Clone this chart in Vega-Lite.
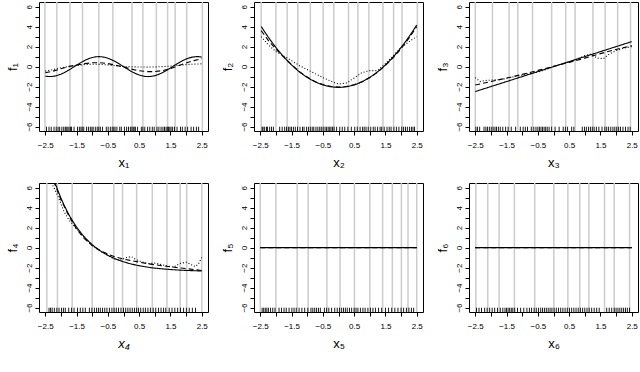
{
"$schema":"https://vega.github.io/schema/vega-lite/v6.json",
"background":"white",
"padding":{"left":5,"top":0,"right":0,"bottom":0},
"columns":3,
"spacing":{"row":11,"column":11},
"datasets":{
"knots":[
{"p":1,"x":-2.51},{"p":1,"x":-2.13},{"p":1,"x":-1.71},{"p":1,"x":-1.31},{"p":1,"x":-0.79},{"p":1,"x":-0.34},{"p":1,"x":0.27},{"p":1,"x":0.62},{"p":1,"x":1.05},{"p":1,"x":1.41},{"p":1,"x":1.65},{"p":1,"x":2.02},{"p":1,"x":2.52},
{"p":2,"x":-2.47},{"p":2,"x":-2.0},{"p":2,"x":-1.64},{"p":2,"x":-1.3},{"p":2,"x":-0.9},{"p":2,"x":-0.49},{"p":2,"x":-0.15},{"p":2,"x":0.32},{"p":2,"x":0.62},{"p":2,"x":0.97},{"p":2,"x":1.42},{"p":2,"x":1.76},{"p":2,"x":2.03},{"p":2,"x":2.52},
{"p":3,"x":-2.5},{"p":3,"x":-1.95},{"p":3,"x":-1.42},{"p":3,"x":-1.14},{"p":3,"x":-0.67},{"p":3,"x":-0.06},{"p":3,"x":0.39},{"p":3,"x":0.69},{"p":3,"x":1.26},{"p":3,"x":1.65},{"p":3,"x":2.05},{"p":3,"x":2.46},
{"p":4,"x":-2.45},{"p":4,"x":-2.11},{"p":4,"x":-1.64},{"p":4,"x":-1.0},{"p":4,"x":-0.31},{"p":4,"x":-0.03},{"p":4,"x":0.42},{"p":4,"x":0.92},{"p":4,"x":1.39},{"p":4,"x":1.81},{"p":4,"x":2.02},{"p":4,"x":2.5},
{"p":5,"x":-2.5},{"p":5,"x":-2.0},{"p":5,"x":-1.32},{"p":5,"x":-0.97},{"p":5,"x":-0.37},{"p":5,"x":0.05},{"p":5,"x":0.51},{"p":5,"x":1.0},{"p":5,"x":1.41},{"p":5,"x":1.72},{"p":5,"x":2.01},{"p":5,"x":2.22},{"p":5,"x":2.5},
{"p":6,"x":-2.48},{"p":6,"x":-2.1},{"p":6,"x":-1.74},{"p":6,"x":-1.25},{"p":6,"x":-0.6},{"p":6,"x":0.01},{"p":6,"x":0.46},{"p":6,"x":0.84},{"p":6,"x":1.13},{"p":6,"x":1.63},{"p":6,"x":1.94},{"p":6,"x":2.43}
],
"rug":[
{"p":1,"x":-2.46},{"p":1,"x":-2.38},{"p":1,"x":-2.31},{"p":1,"x":-2.22},{"p":1,"x":-2.15},{"p":1,"x":-2.09},{"p":1,"x":-2.04},{"p":1,"x":-1.97},{"p":1,"x":-1.91},{"p":1,"x":-1.86},{"p":1,"x":-1.83},{"p":1,"x":-1.78},{"p":1,"x":-1.74},{"p":1,"x":-1.69},{"p":1,"x":-1.66},{"p":1,"x":-1.58},{"p":1,"x":-1.47},{"p":1,"x":-1.41},{"p":1,"x":-1.36},{"p":1,"x":-1.32},{"p":1,"x":-1.27},{"p":1,"x":-1.18},{"p":1,"x":-1.12},{"p":1,"x":-1.06},{"p":1,"x":-1.01},{"p":1,"x":-0.97},{"p":1,"x":-0.9},{"p":1,"x":-0.84},{"p":1,"x":-0.79},{"p":1,"x":-0.74},{"p":1,"x":-0.67},{"p":1,"x":-0.55},{"p":1,"x":-0.49},{"p":1,"x":-0.42},{"p":1,"x":-0.36},{"p":1,"x":-0.31},{"p":1,"x":-0.27},{"p":1,"x":-0.21},{"p":1,"x":-0.12},{"p":1,"x":-0.07},{"p":1,"x":0.03},{"p":1,"x":0.1},{"p":1,"x":0.16},{"p":1,"x":0.22},{"p":1,"x":0.27},{"p":1,"x":0.31},{"p":1,"x":0.34},{"p":1,"x":0.38},{"p":1,"x":0.45},{"p":1,"x":0.57},{"p":1,"x":0.62},{"p":1,"x":0.68},{"p":1,"x":0.77},{"p":1,"x":0.84},{"p":1,"x":0.92},{"p":1,"x":0.98},{"p":1,"x":1.07},{"p":1,"x":1.13},{"p":1,"x":1.2},{"p":1,"x":1.26},{"p":1,"x":1.31},{"p":1,"x":1.36},{"p":1,"x":1.4},{"p":1,"x":1.44},{"p":1,"x":1.48},{"p":1,"x":1.52},{"p":1,"x":1.57},{"p":1,"x":1.63},{"p":1,"x":1.71},{"p":1,"x":1.82},{"p":1,"x":1.88},{"p":1,"x":1.97},{"p":1,"x":2.05},{"p":1,"x":2.16},{"p":1,"x":2.24},{"p":1,"x":2.33},{"p":1,"x":2.4},
{"p":2,"x":-2.44},{"p":2,"x":-2.41},{"p":2,"x":-2.36},{"p":2,"x":-2.3},{"p":2,"x":-2.27},{"p":2,"x":-2.2},{"p":2,"x":-2.14},{"p":2,"x":-2.08},{"p":2,"x":-1.88},{"p":2,"x":-1.8},{"p":2,"x":-1.72},{"p":2,"x":-1.66},{"p":2,"x":-1.6},{"p":2,"x":-1.55},{"p":2,"x":-1.5},{"p":2,"x":-1.44},{"p":2,"x":-1.38},{"p":2,"x":-1.31},{"p":2,"x":-1.23},{"p":2,"x":-1.15},{"p":2,"x":-1.1},{"p":2,"x":-1.02},{"p":2,"x":-0.96},{"p":2,"x":-0.9},{"p":2,"x":-0.84},{"p":2,"x":-0.79},{"p":2,"x":-0.72},{"p":2,"x":-0.66},{"p":2,"x":-0.6},{"p":2,"x":-0.55},{"p":2,"x":-0.49},{"p":2,"x":-0.43},{"p":2,"x":-0.38},{"p":2,"x":-0.33},{"p":2,"x":-0.28},{"p":2,"x":-0.24},{"p":2,"x":-0.19},{"p":2,"x":-0.14},{"p":2,"x":-0.06},{"p":2,"x":0.04},{"p":2,"x":0.12},{"p":2,"x":0.2},{"p":2,"x":0.3},{"p":2,"x":0.41},{"p":2,"x":0.52},{"p":2,"x":0.6},{"p":2,"x":0.69},{"p":2,"x":0.77},{"p":2,"x":0.82},{"p":2,"x":0.88},{"p":2,"x":0.95},{"p":2,"x":1.03},{"p":2,"x":1.11},{"p":2,"x":1.17},{"p":2,"x":1.25},{"p":2,"x":1.33},{"p":2,"x":1.38},{"p":2,"x":1.46},{"p":2,"x":1.55},{"p":2,"x":1.62},{"p":2,"x":1.68},{"p":2,"x":1.77},{"p":2,"x":1.85},{"p":2,"x":1.93},{"p":2,"x":2.02},{"p":2,"x":2.08},{"p":2,"x":2.14},{"p":2,"x":2.2},{"p":2,"x":2.27},{"p":2,"x":2.33},{"p":2,"x":2.38},{"p":2,"x":2.43},
{"p":3,"x":-2.48},{"p":3,"x":-2.43},{"p":3,"x":-2.36},{"p":3,"x":-2.22},{"p":3,"x":-2.16},{"p":3,"x":-2.11},{"p":3,"x":-2.05},{"p":3,"x":-1.99},{"p":3,"x":-1.93},{"p":3,"x":-1.87},{"p":3,"x":-1.82},{"p":3,"x":-1.76},{"p":3,"x":-1.7},{"p":3,"x":-1.62},{"p":3,"x":-1.53},{"p":3,"x":-1.45},{"p":3,"x":-1.35},{"p":3,"x":-1.21},{"p":3,"x":-1.06},{"p":3,"x":-0.97},{"p":3,"x":-0.9},{"p":3,"x":-0.83},{"p":3,"x":-0.71},{"p":3,"x":-0.63},{"p":3,"x":-0.56},{"p":3,"x":-0.5},{"p":3,"x":-0.45},{"p":3,"x":-0.4},{"p":3,"x":-0.35},{"p":3,"x":-0.3},{"p":3,"x":-0.25},{"p":3,"x":-0.2},{"p":3,"x":-0.14},{"p":3,"x":-0.06},{"p":3,"x":0.05},{"p":3,"x":0.18},{"p":3,"x":0.31},{"p":3,"x":0.38},{"p":3,"x":0.45},{"p":3,"x":0.58},{"p":3,"x":0.65},{"p":3,"x":0.92},{"p":3,"x":0.99},{"p":3,"x":1.05},{"p":3,"x":1.12},{"p":3,"x":1.18},{"p":3,"x":1.24},{"p":3,"x":1.3},{"p":3,"x":1.37},{"p":3,"x":1.45},{"p":3,"x":1.55},{"p":3,"x":1.64},{"p":3,"x":1.7},{"p":3,"x":1.76},{"p":3,"x":1.83},{"p":3,"x":1.9},{"p":3,"x":1.96},{"p":3,"x":2.02},{"p":3,"x":2.08},{"p":3,"x":2.14},{"p":3,"x":2.22},{"p":3,"x":2.3},{"p":3,"x":2.38},{"p":3,"x":2.45},
{"p":4,"x":-2.38},{"p":4,"x":-2.33},{"p":4,"x":-2.28},{"p":4,"x":-2.21},{"p":4,"x":-2.13},{"p":4,"x":-2.06},{"p":4,"x":-1.98},{"p":4,"x":-1.92},{"p":4,"x":-1.86},{"p":4,"x":-1.75},{"p":4,"x":-1.66},{"p":4,"x":-1.58},{"p":4,"x":-1.47},{"p":4,"x":-1.38},{"p":4,"x":-1.3},{"p":4,"x":-1.22},{"p":4,"x":-1.09},{"p":4,"x":-1.01},{"p":4,"x":-0.93},{"p":4,"x":-0.86},{"p":4,"x":-0.8},{"p":4,"x":-0.74},{"p":4,"x":-0.67},{"p":4,"x":-0.6},{"p":4,"x":-0.53},{"p":4,"x":-0.45},{"p":4,"x":-0.37},{"p":4,"x":-0.3},{"p":4,"x":-0.23},{"p":4,"x":-0.16},{"p":4,"x":-0.08},{"p":4,"x":0.0},{"p":4,"x":0.07},{"p":4,"x":0.14},{"p":4,"x":0.21},{"p":4,"x":0.28},{"p":4,"x":0.35},{"p":4,"x":0.42},{"p":4,"x":0.48},{"p":4,"x":0.55},{"p":4,"x":0.63},{"p":4,"x":0.7},{"p":4,"x":0.78},{"p":4,"x":0.86},{"p":4,"x":0.95},{"p":4,"x":1.03},{"p":4,"x":1.12},{"p":4,"x":1.2},{"p":4,"x":1.28},{"p":4,"x":1.35},{"p":4,"x":1.46},{"p":4,"x":1.55},{"p":4,"x":1.64},{"p":4,"x":1.73},{"p":4,"x":1.82},{"p":4,"x":1.92},{"p":4,"x":2.01},{"p":4,"x":2.1},{"p":4,"x":2.2},{"p":4,"x":2.3},
{"p":5,"x":-2.44},{"p":5,"x":-2.39},{"p":5,"x":-2.34},{"p":5,"x":-2.29},{"p":5,"x":-2.24},{"p":5,"x":-2.17},{"p":5,"x":-2.1},{"p":5,"x":-2.03},{"p":5,"x":-1.9},{"p":5,"x":-1.82},{"p":5,"x":-1.74},{"p":5,"x":-1.67},{"p":5,"x":-1.58},{"p":5,"x":-1.49},{"p":5,"x":-1.42},{"p":5,"x":-1.35},{"p":5,"x":-1.26},{"p":5,"x":-1.17},{"p":5,"x":-1.08},{"p":5,"x":-0.98},{"p":5,"x":-0.88},{"p":5,"x":-0.82},{"p":5,"x":-0.76},{"p":5,"x":-0.7},{"p":5,"x":-0.64},{"p":5,"x":-0.58},{"p":5,"x":-0.45},{"p":5,"x":-0.38},{"p":5,"x":-0.31},{"p":5,"x":-0.22},{"p":5,"x":-0.12},{"p":5,"x":-0.04},{"p":5,"x":0.03},{"p":5,"x":0.1},{"p":5,"x":0.16},{"p":5,"x":0.22},{"p":5,"x":0.28},{"p":5,"x":0.35},{"p":5,"x":0.42},{"p":5,"x":0.5},{"p":5,"x":0.56},{"p":5,"x":0.62},{"p":5,"x":0.7},{"p":5,"x":0.78},{"p":5,"x":0.85},{"p":5,"x":0.94},{"p":5,"x":1.02},{"p":5,"x":1.1},{"p":5,"x":1.18},{"p":5,"x":1.28},{"p":5,"x":1.38},{"p":5,"x":1.5},{"p":5,"x":1.6},{"p":5,"x":1.7},{"p":5,"x":1.8},{"p":5,"x":1.9},{"p":5,"x":2.0},{"p":5,"x":2.08},{"p":5,"x":2.17},{"p":5,"x":2.25},{"p":5,"x":2.33},{"p":5,"x":2.4},
{"p":6,"x":-2.46},{"p":6,"x":-2.38},{"p":6,"x":-2.3},{"p":6,"x":-2.2},{"p":6,"x":-2.12},{"p":6,"x":-2.04},{"p":6,"x":-1.96},{"p":6,"x":-1.88},{"p":6,"x":-1.79},{"p":6,"x":-1.7},{"p":6,"x":-1.62},{"p":6,"x":-1.55},{"p":6,"x":-1.5},{"p":6,"x":-1.45},{"p":6,"x":-1.4},{"p":6,"x":-1.35},{"p":6,"x":-1.3},{"p":6,"x":-1.24},{"p":6,"x":-1.15},{"p":6,"x":-1.05},{"p":6,"x":-0.95},{"p":6,"x":-0.85},{"p":6,"x":-0.77},{"p":6,"x":-0.7},{"p":6,"x":-0.62},{"p":6,"x":-0.55},{"p":6,"x":-0.48},{"p":6,"x":-0.41},{"p":6,"x":-0.35},{"p":6,"x":-0.29},{"p":6,"x":-0.23},{"p":6,"x":-0.17},{"p":6,"x":-0.11},{"p":6,"x":-0.05},{"p":6,"x":0.02},{"p":6,"x":0.09},{"p":6,"x":0.16},{"p":6,"x":0.23},{"p":6,"x":0.3},{"p":6,"x":0.37},{"p":6,"x":0.44},{"p":6,"x":0.51},{"p":6,"x":0.58},{"p":6,"x":0.65},{"p":6,"x":0.72},{"p":6,"x":0.79},{"p":6,"x":0.86},{"p":6,"x":0.93},{"p":6,"x":1.0},{"p":6,"x":1.07},{"p":6,"x":1.14},{"p":6,"x":1.22},{"p":6,"x":1.3},{"p":6,"x":1.38},{"p":6,"x":1.46},{"p":6,"x":1.7},{"p":6,"x":1.78},{"p":6,"x":1.86},{"p":6,"x":1.94},{"p":6,"x":2.0},{"p":6,"x":2.06},{"p":6,"x":2.12},{"p":6,"x":2.18},{"p":6,"x":2.24},{"p":6,"x":2.3},{"p":6,"x":2.36},{"p":6,"x":2.43}
],
"curves":[
{"p":1,"t":"a","x":-2.5,"y":-0.959},{"p":1,"t":"a","x":-2.4,"y":-0.996},{"p":1,"t":"a","x":-2.3,"y":-0.994},{"p":1,"t":"a","x":-2.2,"y":-0.952},{"p":1,"t":"a","x":-2.1,"y":-0.872},{"p":1,"t":"a","x":-2.0,"y":-0.757},{"p":1,"t":"a","x":-1.9,"y":-0.612},{"p":1,"t":"a","x":-1.8,"y":-0.443},{"p":1,"t":"a","x":-1.7,"y":-0.256},{"p":1,"t":"a","x":-1.6,"y":-0.058},{"p":1,"t":"a","x":-1.5,"y":0.141},{"p":1,"t":"a","x":-1.4,"y":0.335},{"p":1,"t":"a","x":-1.3,"y":0.516},{"p":1,"t":"a","x":-1.2,"y":0.676},{"p":1,"t":"a","x":-1.1,"y":0.809},{"p":1,"t":"a","x":-1.0,"y":0.909},{"p":1,"t":"a","x":-0.9,"y":0.974},{"p":1,"t":"a","x":-0.8,"y":1.0},{"p":1,"t":"a","x":-0.7,"y":0.985},{"p":1,"t":"a","x":-0.6,"y":0.932},{"p":1,"t":"a","x":-0.5,"y":0.841},{"p":1,"t":"a","x":-0.4,"y":0.717},{"p":1,"t":"a","x":-0.3,"y":0.565},{"p":1,"t":"a","x":-0.2,"y":0.389},{"p":1,"t":"a","x":-0.1,"y":0.199},{"p":1,"t":"a","x":0.0,"y":0.0},{"p":1,"t":"a","x":0.1,"y":-0.199},{"p":1,"t":"a","x":0.2,"y":-0.389},{"p":1,"t":"a","x":0.3,"y":-0.565},{"p":1,"t":"a","x":0.4,"y":-0.717},{"p":1,"t":"a","x":0.5,"y":-0.841},{"p":1,"t":"a","x":0.6,"y":-0.932},{"p":1,"t":"a","x":0.7,"y":-0.985},{"p":1,"t":"a","x":0.8,"y":-1.0},{"p":1,"t":"a","x":0.9,"y":-0.974},{"p":1,"t":"a","x":1.0,"y":-0.909},{"p":1,"t":"a","x":1.1,"y":-0.809},{"p":1,"t":"a","x":1.2,"y":-0.676},{"p":1,"t":"a","x":1.3,"y":-0.516},{"p":1,"t":"a","x":1.4,"y":-0.335},{"p":1,"t":"a","x":1.5,"y":-0.141},{"p":1,"t":"a","x":1.6,"y":0.058},{"p":1,"t":"a","x":1.7,"y":0.256},{"p":1,"t":"a","x":1.8,"y":0.443},{"p":1,"t":"a","x":1.9,"y":0.612},{"p":1,"t":"a","x":2.0,"y":0.757},{"p":1,"t":"a","x":2.1,"y":0.872},{"p":1,"t":"a","x":2.2,"y":0.952},{"p":1,"t":"a","x":2.3,"y":0.994},{"p":1,"t":"a","x":2.4,"y":0.996},{"p":1,"t":"a","x":2.5,"y":0.959},
{"p":1,"t":"b","x":-2.5,"y":-0.62},{"p":1,"t":"b","x":-2.25,"y":-0.45},{"p":1,"t":"b","x":-2.0,"y":-0.22},{"p":1,"t":"b","x":-1.75,"y":0.0},{"p":1,"t":"b","x":-1.5,"y":0.16},{"p":1,"t":"b","x":-1.25,"y":0.3},{"p":1,"t":"b","x":-1.0,"y":0.38},{"p":1,"t":"b","x":-0.75,"y":0.38},{"p":1,"t":"b","x":-0.5,"y":0.3},{"p":1,"t":"b","x":-0.25,"y":0.15},{"p":1,"t":"b","x":0.0,"y":-0.05},{"p":1,"t":"b","x":0.25,"y":-0.25},{"p":1,"t":"b","x":0.5,"y":-0.42},{"p":1,"t":"b","x":0.75,"y":-0.5},{"p":1,"t":"b","x":1.0,"y":-0.5},{"p":1,"t":"b","x":1.25,"y":-0.4},{"p":1,"t":"b","x":1.5,"y":-0.2},{"p":1,"t":"b","x":1.75,"y":0.08},{"p":1,"t":"b","x":2.0,"y":0.36},{"p":1,"t":"b","x":2.25,"y":0.6},{"p":1,"t":"b","x":2.5,"y":0.8},
{"p":1,"t":"c","x":-2.5,"y":-0.45},{"p":1,"t":"c","x":-2.25,"y":-0.3},{"p":1,"t":"c","x":-2.0,"y":-0.12},{"p":1,"t":"c","x":-1.75,"y":0.03},{"p":1,"t":"c","x":-1.5,"y":0.13},{"p":1,"t":"c","x":-1.25,"y":0.2},{"p":1,"t":"c","x":-1.0,"y":0.24},{"p":1,"t":"c","x":-0.75,"y":0.22},{"p":1,"t":"c","x":-0.5,"y":0.17},{"p":1,"t":"c","x":-0.25,"y":0.08},{"p":1,"t":"c","x":0.0,"y":0.02},{"p":1,"t":"c","x":0.25,"y":-0.02},{"p":1,"t":"c","x":0.5,"y":-0.04},{"p":1,"t":"c","x":0.75,"y":-0.05},{"p":1,"t":"c","x":1.0,"y":-0.03},{"p":1,"t":"c","x":1.25,"y":0.0},{"p":1,"t":"c","x":1.5,"y":0.05},{"p":1,"t":"c","x":1.75,"y":0.12},{"p":1,"t":"c","x":2.0,"y":0.2},{"p":1,"t":"c","x":2.25,"y":0.25},{"p":1,"t":"c","x":2.5,"y":0.28},
{"p":2,"t":"a","x":-2.47,"y":4.018},{"p":2,"t":"a","x":-2.4,"y":3.677},{"p":2,"t":"a","x":-2.3,"y":3.207},{"p":2,"t":"a","x":-2.2,"y":2.757},{"p":2,"t":"a","x":-2.1,"y":2.327},{"p":2,"t":"a","x":-2.0,"y":1.917},{"p":2,"t":"a","x":-1.9,"y":1.527},{"p":2,"t":"a","x":-1.8,"y":1.157},{"p":2,"t":"a","x":-1.7,"y":0.807},{"p":2,"t":"a","x":-1.6,"y":0.477},{"p":2,"t":"a","x":-1.5,"y":0.167},{"p":2,"t":"a","x":-1.4,"y":-0.123},{"p":2,"t":"a","x":-1.3,"y":-0.393},{"p":2,"t":"a","x":-1.2,"y":-0.643},{"p":2,"t":"a","x":-1.1,"y":-0.873},{"p":2,"t":"a","x":-1.0,"y":-1.083},{"p":2,"t":"a","x":-0.9,"y":-1.273},{"p":2,"t":"a","x":-0.8,"y":-1.443},{"p":2,"t":"a","x":-0.7,"y":-1.593},{"p":2,"t":"a","x":-0.6,"y":-1.723},{"p":2,"t":"a","x":-0.5,"y":-1.833},{"p":2,"t":"a","x":-0.4,"y":-1.923},{"p":2,"t":"a","x":-0.3,"y":-1.993},{"p":2,"t":"a","x":-0.2,"y":-2.043},{"p":2,"t":"a","x":-0.1,"y":-2.073},{"p":2,"t":"a","x":0.0,"y":-2.083},{"p":2,"t":"a","x":0.1,"y":-2.073},{"p":2,"t":"a","x":0.2,"y":-2.043},{"p":2,"t":"a","x":0.3,"y":-1.993},{"p":2,"t":"a","x":0.4,"y":-1.923},{"p":2,"t":"a","x":0.5,"y":-1.833},{"p":2,"t":"a","x":0.6,"y":-1.723},{"p":2,"t":"a","x":0.7,"y":-1.593},{"p":2,"t":"a","x":0.8,"y":-1.443},{"p":2,"t":"a","x":0.9,"y":-1.273},{"p":2,"t":"a","x":1.0,"y":-1.083},{"p":2,"t":"a","x":1.1,"y":-0.873},{"p":2,"t":"a","x":1.2,"y":-0.643},{"p":2,"t":"a","x":1.3,"y":-0.393},{"p":2,"t":"a","x":1.4,"y":-0.123},{"p":2,"t":"a","x":1.5,"y":0.167},{"p":2,"t":"a","x":1.6,"y":0.477},{"p":2,"t":"a","x":1.7,"y":0.807},{"p":2,"t":"a","x":1.8,"y":1.157},{"p":2,"t":"a","x":1.9,"y":1.527},{"p":2,"t":"a","x":2.0,"y":1.917},{"p":2,"t":"a","x":2.1,"y":2.327},{"p":2,"t":"a","x":2.2,"y":2.757},{"p":2,"t":"a","x":2.3,"y":3.207},{"p":2,"t":"a","x":2.4,"y":3.677},{"p":2,"t":"a","x":2.5,"y":4.167},
{"p":2,"t":"b","x":-2.47,"y":3.6},{"p":2,"t":"b","x":-2.25,"y":2.65},{"p":2,"t":"b","x":-2.0,"y":1.75},{"p":2,"t":"b","x":-1.75,"y":0.95},{"p":2,"t":"b","x":-1.5,"y":0.2},{"p":2,"t":"b","x":-1.25,"y":-0.5},{"p":2,"t":"b","x":-1.0,"y":-1.05},{"p":2,"t":"b","x":-0.75,"y":-1.5},{"p":2,"t":"b","x":-0.5,"y":-1.8},{"p":2,"t":"b","x":-0.25,"y":-1.98},{"p":2,"t":"b","x":0.0,"y":-2.05},{"p":2,"t":"b","x":0.25,"y":-2.0},{"p":2,"t":"b","x":0.5,"y":-1.82},{"p":2,"t":"b","x":0.75,"y":-1.52},{"p":2,"t":"b","x":1.0,"y":-1.1},{"p":2,"t":"b","x":1.25,"y":-0.55},{"p":2,"t":"b","x":1.5,"y":0.12},{"p":2,"t":"b","x":1.75,"y":0.9},{"p":2,"t":"b","x":2.0,"y":1.8},{"p":2,"t":"b","x":2.25,"y":2.85},{"p":2,"t":"b","x":2.5,"y":4.0},
{"p":2,"t":"c","x":-2.47,"y":3.0},{"p":2,"t":"c","x":-2.25,"y":2.2},{"p":2,"t":"c","x":-2.0,"y":1.5},{"p":2,"t":"c","x":-1.75,"y":1.05},{"p":2,"t":"c","x":-1.5,"y":0.6},{"p":2,"t":"c","x":-1.25,"y":0.1},{"p":2,"t":"c","x":-1.0,"y":-0.3},{"p":2,"t":"c","x":-0.75,"y":-0.7},{"p":2,"t":"c","x":-0.5,"y":-1.1},{"p":2,"t":"c","x":-0.25,"y":-1.45},{"p":2,"t":"c","x":0.0,"y":-1.75},{"p":2,"t":"c","x":0.25,"y":-1.65},{"p":2,"t":"c","x":0.5,"y":-1.15},{"p":2,"t":"c","x":0.75,"y":-0.6},{"p":2,"t":"c","x":1.0,"y":-0.4},{"p":2,"t":"c","x":1.25,"y":-0.4},{"p":2,"t":"c","x":1.5,"y":0.3},{"p":2,"t":"c","x":1.75,"y":1.1},{"p":2,"t":"c","x":2.0,"y":1.9},{"p":2,"t":"c","x":2.25,"y":2.5},{"p":2,"t":"c","x":2.5,"y":3.0},
{"p":3,"t":"a","x":-2.5,"y":-2.5},{"p":3,"t":"a","x":2.5,"y":2.5},
{"p":3,"t":"b","x":-2.5,"y":-1.85},{"p":3,"t":"b","x":-2.0,"y":-1.5},{"p":3,"t":"b","x":-1.5,"y":-1.15},{"p":3,"t":"b","x":-1.0,"y":-0.78},{"p":3,"t":"b","x":-0.5,"y":-0.38},{"p":3,"t":"b","x":0.0,"y":0.02},{"p":3,"t":"b","x":0.5,"y":0.42},{"p":3,"t":"b","x":1.0,"y":0.85},{"p":3,"t":"b","x":1.5,"y":1.3},{"p":3,"t":"b","x":2.0,"y":1.72},{"p":3,"t":"b","x":2.5,"y":2.1},
{"p":3,"t":"c","x":-2.5,"y":-1.1},{"p":3,"t":"c","x":-2.35,"y":-1.5},{"p":3,"t":"c","x":-2.2,"y":-1.4},{"p":3,"t":"c","x":-2.0,"y":-1.35},{"p":3,"t":"c","x":-1.75,"y":-1.3},{"p":3,"t":"c","x":-1.5,"y":-1.2},{"p":3,"t":"c","x":-1.25,"y":-1.0},{"p":3,"t":"c","x":-1.0,"y":-0.85},{"p":3,"t":"c","x":-0.75,"y":-0.7},{"p":3,"t":"c","x":-0.5,"y":-0.55},{"p":3,"t":"c","x":-0.25,"y":-0.3},{"p":3,"t":"c","x":0.0,"y":0.0},{"p":3,"t":"c","x":0.25,"y":0.25},{"p":3,"t":"c","x":0.5,"y":0.45},{"p":3,"t":"c","x":0.75,"y":0.75},{"p":3,"t":"c","x":1.0,"y":1.1},{"p":3,"t":"c","x":1.2,"y":1.25},{"p":3,"t":"c","x":1.4,"y":0.85},{"p":3,"t":"c","x":1.6,"y":0.8},{"p":3,"t":"c","x":1.75,"y":1.2},{"p":3,"t":"c","x":2.0,"y":1.6},{"p":3,"t":"c","x":2.25,"y":1.85},{"p":3,"t":"c","x":2.5,"y":2.0},
{"p":4,"t":"a","x":-2.3,"y":7.554},{"p":4,"t":"a","x":-2.2,"y":6.605},{"p":4,"t":"a","x":-2.1,"y":5.746},{"p":4,"t":"a","x":-2.0,"y":4.969},{"p":4,"t":"a","x":-1.9,"y":4.266},{"p":4,"t":"a","x":-1.8,"y":3.63},{"p":4,"t":"a","x":-1.7,"y":3.054},{"p":4,"t":"a","x":-1.6,"y":2.533},{"p":4,"t":"a","x":-1.5,"y":2.062},{"p":4,"t":"a","x":-1.4,"y":1.635},{"p":4,"t":"a","x":-1.3,"y":1.249},{"p":4,"t":"a","x":-1.2,"y":0.9},{"p":4,"t":"a","x":-1.1,"y":0.584},{"p":4,"t":"a","x":-1.0,"y":0.298},{"p":4,"t":"a","x":-0.9,"y":0.04},{"p":4,"t":"a","x":-0.8,"y":-0.194},{"p":4,"t":"a","x":-0.7,"y":-0.406},{"p":4,"t":"a","x":-0.6,"y":-0.598},{"p":4,"t":"a","x":-0.5,"y":-0.771},{"p":4,"t":"a","x":-0.4,"y":-0.928},{"p":4,"t":"a","x":-0.3,"y":-1.07},{"p":4,"t":"a","x":-0.2,"y":-1.199},{"p":4,"t":"a","x":-0.1,"y":-1.315},{"p":4,"t":"a","x":0.0,"y":-1.42},{"p":4,"t":"a","x":0.1,"y":-1.515},{"p":4,"t":"a","x":0.2,"y":-1.601},{"p":4,"t":"a","x":0.3,"y":-1.679},{"p":4,"t":"a","x":0.4,"y":-1.75},{"p":4,"t":"a","x":0.5,"y":-1.813},{"p":4,"t":"a","x":0.6,"y":-1.871},{"p":4,"t":"a","x":0.7,"y":-1.923},{"p":4,"t":"a","x":0.8,"y":-1.971},{"p":4,"t":"a","x":0.9,"y":-2.013},{"p":4,"t":"a","x":1.0,"y":-2.052},{"p":4,"t":"a","x":1.1,"y":-2.087},{"p":4,"t":"a","x":1.2,"y":-2.119},{"p":4,"t":"a","x":1.3,"y":-2.147},{"p":4,"t":"a","x":1.4,"y":-2.173},{"p":4,"t":"a","x":1.5,"y":-2.197},{"p":4,"t":"a","x":1.6,"y":-2.218},{"p":4,"t":"a","x":1.7,"y":-2.237},{"p":4,"t":"a","x":1.8,"y":-2.255},{"p":4,"t":"a","x":1.9,"y":-2.27},{"p":4,"t":"a","x":2.0,"y":-2.285},{"p":4,"t":"a","x":2.1,"y":-2.298},{"p":4,"t":"a","x":2.2,"y":-2.309},{"p":4,"t":"a","x":2.3,"y":-2.32},{"p":4,"t":"a","x":2.4,"y":-2.329},{"p":4,"t":"a","x":2.5,"y":-2.338},
{"p":4,"t":"b","x":-2.3,"y":7.4},{"p":4,"t":"b","x":-2.2,"y":6.4},{"p":4,"t":"b","x":-2.0,"y":4.8},{"p":4,"t":"b","x":-1.75,"y":3.2},{"p":4,"t":"b","x":-1.5,"y":1.85},{"p":4,"t":"b","x":-1.25,"y":0.9},{"p":4,"t":"b","x":-1.0,"y":0.2},{"p":4,"t":"b","x":-0.75,"y":-0.3},{"p":4,"t":"b","x":-0.5,"y":-0.65},{"p":4,"t":"b","x":-0.25,"y":-0.95},{"p":4,"t":"b","x":0.0,"y":-1.15},{"p":4,"t":"b","x":0.25,"y":-1.3},{"p":4,"t":"b","x":0.5,"y":-1.45},{"p":4,"t":"b","x":0.75,"y":-1.6},{"p":4,"t":"b","x":1.0,"y":-1.72},{"p":4,"t":"b","x":1.25,"y":-1.82},{"p":4,"t":"b","x":1.5,"y":-1.92},{"p":4,"t":"b","x":1.75,"y":-2.02},{"p":4,"t":"b","x":2.0,"y":-2.1},{"p":4,"t":"b","x":2.25,"y":-2.2},{"p":4,"t":"b","x":2.5,"y":-2.3},
{"p":4,"t":"c","x":-2.3,"y":6.5},{"p":4,"t":"c","x":-2.1,"y":5.2},{"p":4,"t":"c","x":-1.9,"y":3.6},{"p":4,"t":"c","x":-1.75,"y":2.8},{"p":4,"t":"c","x":-1.5,"y":1.9},{"p":4,"t":"c","x":-1.25,"y":1.0},{"p":4,"t":"c","x":-1.0,"y":0.2},{"p":4,"t":"c","x":-0.75,"y":-0.35},{"p":4,"t":"c","x":-0.5,"y":-0.8},{"p":4,"t":"c","x":-0.3,"y":-1.15},{"p":4,"t":"c","x":-0.1,"y":-1.25},{"p":4,"t":"c","x":0.1,"y":-1.0},{"p":4,"t":"c","x":0.25,"y":-0.9},{"p":4,"t":"c","x":0.4,"y":-1.2},{"p":4,"t":"c","x":0.6,"y":-1.45},{"p":4,"t":"c","x":0.8,"y":-1.6},{"p":4,"t":"c","x":1.0,"y":-1.55},{"p":4,"t":"c","x":1.2,"y":-1.7},{"p":4,"t":"c","x":1.4,"y":-1.85},{"p":4,"t":"c","x":1.6,"y":-1.95},{"p":4,"t":"c","x":1.8,"y":-1.6},{"p":4,"t":"c","x":2.0,"y":-1.45},{"p":4,"t":"c","x":2.15,"y":-1.7},{"p":4,"t":"c","x":2.3,"y":-1.9},{"p":4,"t":"c","x":2.4,"y":-1.6},{"p":4,"t":"c","x":2.5,"y":-1.0},
{"p":5,"t":"a","x":-2.5,"y":0},{"p":5,"t":"a","x":2.5,"y":0},{"p":5,"t":"b","x":-2.5,"y":0},{"p":5,"t":"b","x":2.5,"y":0},
{"p":6,"t":"a","x":-2.5,"y":0},{"p":6,"t":"a","x":2.5,"y":0},{"p":6,"t":"b","x":-2.5,"y":0},{"p":6,"t":"b","x":2.5,"y":0}
]
},
"concat":[
{"width":169,"height":129,"layer":[
{"data":{"name":"knots"},"transform":[{"filter":"datum.p==1"}],"mark":{"type":"rule","color":"#cccccc","strokeWidth":1.5},"encoding":{"x":{"field":"x","type":"quantitative","scale":{"domain":[-2.7,2.7],"nice":false,"zero":false},"axis":{"title":"x₁","labelOverlap":false,"values":[-2.5,-2,-1.5,-1,-0.5,0,0.5,1,1.5,2,2.5],"format":".1f","labelExpr":"abs(round(datum.value*2)) % 2 == 1 ? datum.label : ''"}}}},
{"data":{"name":"rug"},"transform":[{"filter":"datum.p==1"}],"mark":{"type":"rule","color":"black","strokeWidth":0.9},"encoding":{"x":{"field":"x","type":"quantitative","axis":{"title":"x₁","labelOverlap":false,"values":[-2.5,-2,-1.5,-1,-0.5,0,0.5,1,1.5,2,2.5],"format":".1f","labelExpr":"abs(round(datum.value*2)) % 2 == 1 ? datum.label : ''"}},"y":{"datum":-6.45,"type":"quantitative","scale":{"domain":[-6.45,6.47],"nice":false,"zero":false},"axis":{"title":"f₁","labelOverlap":false,"values":[-6,-5,-4,-3,-2,-1,0,1,2,3,4,5,6],"labelExpr":"datum.value % 2 == 0 ? datum.label : ''"}},"y2":{"datum":-6.02}}},
{"data":{"name":"curves"},"transform":[{"filter":"datum.p==1"}],"mark":{"type":"line","clip":true,"color":"black","strokeWidth":1.1},"encoding":{"x":{"field":"x","type":"quantitative","axis":{"title":"x₁","labelOverlap":false,"values":[-2.5,-2,-1.5,-1,-0.5,0,0.5,1,1.5,2,2.5],"format":".1f","labelExpr":"abs(round(datum.value*2)) % 2 == 1 ? datum.label : ''"}},"y":{"field":"y","type":"quantitative","axis":{"title":"f₁","labelOverlap":false,"values":[-6,-5,-4,-3,-2,-1,0,1,2,3,4,5,6],"labelExpr":"datum.value % 2 == 0 ? datum.label : ''"}},"strokeDash":{"field":"t","type":"nominal","scale":{"domain":["a","b","c"],"range":[[1,0],[5,3],[1,2]]},"legend":null}}}
]},
{"width":169,"height":129,"layer":[
{"data":{"name":"knots"},"transform":[{"filter":"datum.p==2"}],"mark":{"type":"rule","color":"#cccccc","strokeWidth":1.5},"encoding":{"x":{"field":"x","type":"quantitative","scale":{"domain":[-2.7,2.7],"nice":false,"zero":false},"axis":{"title":"x₂","labelOverlap":false,"values":[-2.5,-2,-1.5,-1,-0.5,0,0.5,1,1.5,2,2.5],"format":".1f","labelExpr":"abs(round(datum.value*2)) % 2 == 1 ? datum.label : ''"}}}},
{"data":{"name":"rug"},"transform":[{"filter":"datum.p==2"}],"mark":{"type":"rule","color":"black","strokeWidth":0.9},"encoding":{"x":{"field":"x","type":"quantitative","axis":{"title":"x₂","labelOverlap":false,"values":[-2.5,-2,-1.5,-1,-0.5,0,0.5,1,1.5,2,2.5],"format":".1f","labelExpr":"abs(round(datum.value*2)) % 2 == 1 ? datum.label : ''"}},"y":{"datum":-6.45,"type":"quantitative","scale":{"domain":[-6.45,6.47],"nice":false,"zero":false},"axis":{"title":"f₂","labelOverlap":false,"values":[-6,-5,-4,-3,-2,-1,0,1,2,3,4,5,6],"labelExpr":"datum.value % 2 == 0 ? datum.label : ''"}},"y2":{"datum":-6.02}}},
{"data":{"name":"curves"},"transform":[{"filter":"datum.p==2"}],"mark":{"type":"line","clip":true,"color":"black","strokeWidth":1.1},"encoding":{"x":{"field":"x","type":"quantitative","axis":{"title":"x₂","labelOverlap":false,"values":[-2.5,-2,-1.5,-1,-0.5,0,0.5,1,1.5,2,2.5],"format":".1f","labelExpr":"abs(round(datum.value*2)) % 2 == 1 ? datum.label : ''"}},"y":{"field":"y","type":"quantitative","axis":{"title":"f₂","labelOverlap":false,"values":[-6,-5,-4,-3,-2,-1,0,1,2,3,4,5,6],"labelExpr":"datum.value % 2 == 0 ? datum.label : ''"}},"strokeDash":{"field":"t","type":"nominal","scale":{"domain":["a","b","c"],"range":[[1,0],[5,3],[1,2]]},"legend":null}}}
]},
{"width":169,"height":129,"layer":[
{"data":{"name":"knots"},"transform":[{"filter":"datum.p==3"}],"mark":{"type":"rule","color":"#cccccc","strokeWidth":1.5},"encoding":{"x":{"field":"x","type":"quantitative","scale":{"domain":[-2.7,2.7],"nice":false,"zero":false},"axis":{"title":"x₃","labelOverlap":false,"values":[-2.5,-2,-1.5,-1,-0.5,0,0.5,1,1.5,2,2.5],"format":".1f","labelExpr":"abs(round(datum.value*2)) % 2 == 1 ? datum.label : ''"}}}},
{"data":{"name":"rug"},"transform":[{"filter":"datum.p==3"}],"mark":{"type":"rule","color":"black","strokeWidth":0.9},"encoding":{"x":{"field":"x","type":"quantitative","axis":{"title":"x₃","labelOverlap":false,"values":[-2.5,-2,-1.5,-1,-0.5,0,0.5,1,1.5,2,2.5],"format":".1f","labelExpr":"abs(round(datum.value*2)) % 2 == 1 ? datum.label : ''"}},"y":{"datum":-6.45,"type":"quantitative","scale":{"domain":[-6.45,6.47],"nice":false,"zero":false},"axis":{"title":"f₃","labelOverlap":false,"values":[-6,-5,-4,-3,-2,-1,0,1,2,3,4,5,6],"labelExpr":"datum.value % 2 == 0 ? datum.label : ''"}},"y2":{"datum":-6.02}}},
{"data":{"name":"curves"},"transform":[{"filter":"datum.p==3"}],"mark":{"type":"line","clip":true,"color":"black","strokeWidth":1.1},"encoding":{"x":{"field":"x","type":"quantitative","axis":{"title":"x₃","labelOverlap":false,"values":[-2.5,-2,-1.5,-1,-0.5,0,0.5,1,1.5,2,2.5],"format":".1f","labelExpr":"abs(round(datum.value*2)) % 2 == 1 ? datum.label : ''"}},"y":{"field":"y","type":"quantitative","axis":{"title":"f₃","labelOverlap":false,"values":[-6,-5,-4,-3,-2,-1,0,1,2,3,4,5,6],"labelExpr":"datum.value % 2 == 0 ? datum.label : ''"}},"strokeDash":{"field":"t","type":"nominal","scale":{"domain":["a","b","c"],"range":[[1,0],[5,3],[1,2]]},"legend":null}}}
]},
{"width":169,"height":129,"layer":[
{"data":{"name":"knots"},"transform":[{"filter":"datum.p==4"}],"mark":{"type":"rule","color":"#cccccc","strokeWidth":1.5},"encoding":{"x":{"field":"x","type":"quantitative","scale":{"domain":[-2.7,2.7],"nice":false,"zero":false},"axis":{"title":"x₄","titleFontStyle":"italic","labelOverlap":false,"values":[-2.5,-2,-1.5,-1,-0.5,0,0.5,1,1.5,2,2.5],"format":".1f","labelExpr":"abs(round(datum.value*2)) % 2 == 1 ? datum.label : ''"}}}},
{"data":{"name":"rug"},"transform":[{"filter":"datum.p==4"}],"mark":{"type":"rule","color":"black","strokeWidth":0.9},"encoding":{"x":{"field":"x","type":"quantitative","axis":{"title":"x₄","titleFontStyle":"italic","labelOverlap":false,"values":[-2.5,-2,-1.5,-1,-0.5,0,0.5,1,1.5,2,2.5],"format":".1f","labelExpr":"abs(round(datum.value*2)) % 2 == 1 ? datum.label : ''"}},"y":{"datum":-6.45,"type":"quantitative","scale":{"domain":[-6.45,6.47],"nice":false,"zero":false},"axis":{"title":"f₄","labelOverlap":false,"values":[-6,-5,-4,-3,-2,-1,0,1,2,3,4,5,6],"labelExpr":"datum.value % 2 == 0 ? datum.label : ''"}},"y2":{"datum":-6.02}}},
{"data":{"name":"curves"},"transform":[{"filter":"datum.p==4"}],"mark":{"type":"line","clip":true,"color":"black","strokeWidth":1.1},"encoding":{"x":{"field":"x","type":"quantitative","axis":{"title":"x₄","titleFontStyle":"italic","labelOverlap":false,"values":[-2.5,-2,-1.5,-1,-0.5,0,0.5,1,1.5,2,2.5],"format":".1f","labelExpr":"abs(round(datum.value*2)) % 2 == 1 ? datum.label : ''"}},"y":{"field":"y","type":"quantitative","axis":{"title":"f₄","labelOverlap":false,"values":[-6,-5,-4,-3,-2,-1,0,1,2,3,4,5,6],"labelExpr":"datum.value % 2 == 0 ? datum.label : ''"}},"strokeDash":{"field":"t","type":"nominal","scale":{"domain":["a","b","c"],"range":[[1,0],[5,3],[1,2]]},"legend":null}}}
]},
{"width":169,"height":129,"layer":[
{"data":{"name":"knots"},"transform":[{"filter":"datum.p==5"}],"mark":{"type":"rule","color":"#cccccc","strokeWidth":1.5},"encoding":{"x":{"field":"x","type":"quantitative","scale":{"domain":[-2.7,2.7],"nice":false,"zero":false},"axis":{"title":"x₅","labelOverlap":false,"values":[-2.5,-2,-1.5,-1,-0.5,0,0.5,1,1.5,2,2.5],"format":".1f","labelExpr":"abs(round(datum.value*2)) % 2 == 1 ? datum.label : ''"}}}},
{"data":{"name":"rug"},"transform":[{"filter":"datum.p==5"}],"mark":{"type":"rule","color":"black","strokeWidth":0.9},"encoding":{"x":{"field":"x","type":"quantitative","axis":{"title":"x₅","labelOverlap":false,"values":[-2.5,-2,-1.5,-1,-0.5,0,0.5,1,1.5,2,2.5],"format":".1f","labelExpr":"abs(round(datum.value*2)) % 2 == 1 ? datum.label : ''"}},"y":{"datum":-6.45,"type":"quantitative","scale":{"domain":[-6.45,6.47],"nice":false,"zero":false},"axis":{"title":"f₅","labelOverlap":false,"values":[-6,-5,-4,-3,-2,-1,0,1,2,3,4,5,6],"labelExpr":"datum.value % 2 == 0 ? datum.label : ''"}},"y2":{"datum":-6.02}}},
{"data":{"name":"curves"},"transform":[{"filter":"datum.p==5"}],"mark":{"type":"line","clip":true,"color":"black","strokeWidth":1.1},"encoding":{"x":{"field":"x","type":"quantitative","axis":{"title":"x₅","labelOverlap":false,"values":[-2.5,-2,-1.5,-1,-0.5,0,0.5,1,1.5,2,2.5],"format":".1f","labelExpr":"abs(round(datum.value*2)) % 2 == 1 ? datum.label : ''"}},"y":{"field":"y","type":"quantitative","axis":{"title":"f₅","labelOverlap":false,"values":[-6,-5,-4,-3,-2,-1,0,1,2,3,4,5,6],"labelExpr":"datum.value % 2 == 0 ? datum.label : ''"}},"strokeDash":{"field":"t","type":"nominal","scale":{"domain":["a","b","c"],"range":[[1,0],[5,3],[1,2]]},"legend":null}}}
]},
{"width":169,"height":129,"layer":[
{"data":{"name":"knots"},"transform":[{"filter":"datum.p==6"}],"mark":{"type":"rule","color":"#cccccc","strokeWidth":1.5},"encoding":{"x":{"field":"x","type":"quantitative","scale":{"domain":[-2.7,2.7],"nice":false,"zero":false},"axis":{"title":"x₆","labelOverlap":false,"values":[-2.5,-2,-1.5,-1,-0.5,0,0.5,1,1.5,2,2.5],"format":".1f","labelExpr":"abs(round(datum.value*2)) % 2 == 1 ? datum.label : ''"}}}},
{"data":{"name":"rug"},"transform":[{"filter":"datum.p==6"}],"mark":{"type":"rule","color":"black","strokeWidth":0.9},"encoding":{"x":{"field":"x","type":"quantitative","axis":{"title":"x₆","labelOverlap":false,"values":[-2.5,-2,-1.5,-1,-0.5,0,0.5,1,1.5,2,2.5],"format":".1f","labelExpr":"abs(round(datum.value*2)) % 2 == 1 ? datum.label : ''"}},"y":{"datum":-6.45,"type":"quantitative","scale":{"domain":[-6.45,6.47],"nice":false,"zero":false},"axis":{"title":"f₆","labelOverlap":false,"values":[-6,-5,-4,-3,-2,-1,0,1,2,3,4,5,6],"labelExpr":"datum.value % 2 == 0 ? datum.label : ''"}},"y2":{"datum":-6.02}}},
{"data":{"name":"curves"},"transform":[{"filter":"datum.p==6"}],"mark":{"type":"line","clip":true,"color":"black","strokeWidth":1.1},"encoding":{"x":{"field":"x","type":"quantitative","axis":{"title":"x₆","labelOverlap":false,"values":[-2.5,-2,-1.5,-1,-0.5,0,0.5,1,1.5,2,2.5],"format":".1f","labelExpr":"abs(round(datum.value*2)) % 2 == 1 ? datum.label : ''"}},"y":{"field":"y","type":"quantitative","axis":{"title":"f₆","labelOverlap":false,"values":[-6,-5,-4,-3,-2,-1,0,1,2,3,4,5,6],"labelExpr":"datum.value % 2 == 0 ? datum.label : ''"}},"strokeDash":{"field":"t","type":"nominal","scale":{"domain":["a","b","c"],"range":[[1,0],[5,3],[1,2]]},"legend":null}}}
]}
],
"config":{
"view":{"stroke":"black","strokeWidth":1},
"axis":{"domain":false,"grid":false,"tickColor":"black","tickSize":4,"tickWidth":1,"labelColor":"black","labelFont":"Liberation Sans","labelFontSize":8,"titleFont":"Liberation Sans","titleFontSize":13,"titleFontWeight":"normal","titleColor":"black","labelFlush":false,"labelOverlap":false},
"axisX":{"labelPadding":6,"titlePadding":7},
"axisY":{"labelAngle":-90,"labelPadding":2,"titlePadding":6}
}
}
